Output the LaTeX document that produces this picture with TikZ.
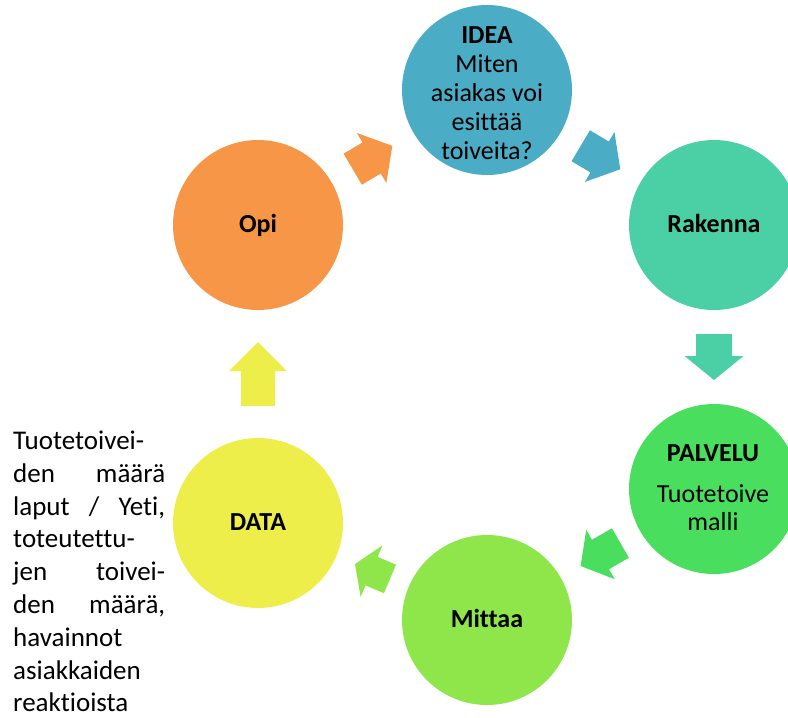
\documentclass[tikz,border=0pt]{standalone}
\usepackage{fontspec}
\setmainfont{Carlito}[Ligatures=NoCommon]
\usetikzlibrary{calc}

\definecolor{cOpi}{HTML}{F79646}
\definecolor{cIdea}{HTML}{4BACC6}
\definecolor{cRakenna}{HTML}{4AD0A4}
\definecolor{cPalvelu}{HTML}{4ADE5F}
\definecolor{cMittaa}{HTML}{8FE64B}
\definecolor{cData}{HTML}{EEEE4A}

% block arrow centred between two nodes
% #1 from, #2 to, #3 angle, #4 length, #5 head length, #6 shaft width, #7 head width, #8 colour
\newcommand\cyclearrow[8]{%
  \fill[#8, shift={($(#1)!0.5!(#2)$)}, rotate=#3]
    ({-#4/2},{-#6/2}) -- ({#4/2-#5},{-#6/2}) -- ({#4/2-#5},{-#7/2}) --
    ({#4/2},0) -- ({#4/2-#5},{#7/2}) -- ({#4/2-#5},{#6/2}) --
    ({-#4/2},{#6/2}) -- cycle;}

\begin{document}
\begin{tikzpicture}[x=1pt, y=-1pt,
  stage/.style={circle, minimum size=170pt, inner sep=0pt, draw=none},
  lbl/.style={anchor=base, inner sep=0pt, font=\fontsize{26}{29}\selectfont},
  blbl/.style={lbl, font=\fontsize{26}{29}\selectfont\bfseries},
  side/.style={anchor=base west, inner sep=0pt, font=\fontsize{27}{33}\selectfont}]
\useasboundingbox (0,0) rectangle (788,718);
\clip (0,0) rectangle (788,718);

% stages of the cycle
\node[stage, fill=cIdea]    (idea)    at (487,90)  {};
\node[stage, fill=cRakenna] (rakenna) at (714,225) {};
\node[stage, fill=cPalvelu] (palvelu) at (714,489) {};
\node[stage, fill=cMittaa]  (mittaa)  at (487,620) {};
\node[stage, fill=cData]    (data)    at (258,523) {};
\node[stage, fill=cOpi]     (opi)     at (258,225) {};

% arrows between the stages
\cyclearrow{opi}{idea}{30.5}{46}{24}{36}{58}{cOpi}
\cyclearrow{idea}{rakenna}{-30.7}{46}{24}{36}{58}{cIdea}
\cyclearrow{rakenna}{palvelu}{-90}{46}{24}{36}{59}{cRakenna}
\cyclearrow{palvelu}{mittaa}{210}{46}{23}{34}{57}{cPalvelu}
\cyclearrow{mittaa}{data}{157}{38}{18}{31}{56}{cMittaa}
\cyclearrow{data}{opi}{90}{64}{29}{34}{58}{cData}

% stage texts
\node[blbl] (idea-1) at (487,43)  {IDEA};
\node[lbl]  (idea-2) at (487,72)  {Miten};
\node[lbl]  (idea-3) at (487,101) {asiakas voi};
\node[lbl]  (idea-4) at (487,130) {esittää};
\node[lbl]  (idea-5) at (487,159) {toiveita?};
\node[blbl] (rakenna-1) at (714,232) {Rakenna};
\node[blbl] (palvelu-1) at (713,461) {PALVELU};
\node[lbl]  (palvelu-2) at (713,502) {Tuotetoive};
\node[lbl]  (palvelu-3) at (713,530) {malli};
\node[blbl] (mittaa-1) at (487,627) {Mittaa};
\node[blbl] (data-1) at (258,530) {DATA};
\node[blbl] (opi-1) at (258,232) {Opi};

% justified note beside DATA
\node[side] (n1) at (13,449.5) {Tuotetoivei-};
\node[side] (n2) at (13,482.3) {\makebox[152pt][s]{den määrä}};
\node[side] (n3) at (13,515.1) {\makebox[152pt][s]{laput / Yeti,}};
\node[side] (n4) at (13,547.9) {toteutettu-};
\node[side] (n5) at (13,580.7) {\makebox[152pt][s]{jen toivei-}};
\node[side] (n6) at (13,613.5) {\makebox[152pt][s]{den määrä,}};
\node[side] (n7) at (13,646.3) {havainnot};
\node[side] (n8) at (13,679.1) {asiakkaiden};
\node[side] (n9) at (13,711.9) {reaktioista};
\end{tikzpicture}
\end{document}
